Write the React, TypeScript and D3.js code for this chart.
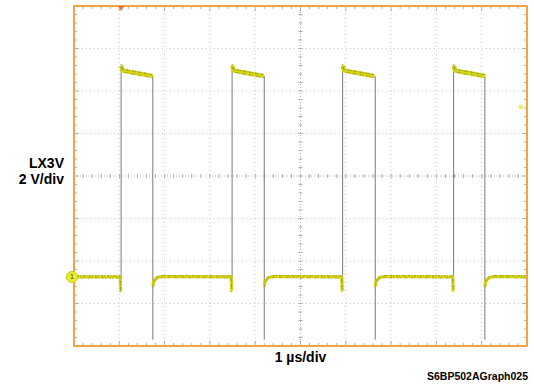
import React from 'react';
import * as d3 from 'd3';

// scope settings: 10 horizontal divisions of 1 µs, 8 vertical divisions of 2 V
const timeDomain = [0, 10];
const voltDomain = [-3.25, 12.75];
const divsX = 10;
const divsY = 8;

// switching edges (µs)
const risingEdges = [1.04, 3.49, 5.93, 8.38];
const fallingEdges = [1.74, 4.2, 6.65, 9.07];

// plateau shape after a rising edge: [µs after edge, volts]
const highShape = [[0, 9.95], [0.03, 9.72], [0.2, 9.64], [0.45, 9.55], [0.7, 9.45]];
// low level shape after a falling edge: [µs after edge, volts]
const lowShape = [[0, -0.45], [0.02, -0.2], [0.08, -0.05], [0.2, 0.02]];
const preDip = -0.65;
const undershoot = -2.95;
const groundLevel = 0;

export default function App() {
  const width = 534;
  const height = 386;
  const margin = { top: 6, right: 7, bottom: 40, left: 74 };
  const x = d3.scaleLinear().domain(timeDomain).range([margin.left, width - margin.right]);
  const y = d3.scaleLinear().domain(voltDomain).range([height - margin.bottom, margin.top]);
  const x0 = x.range()[0], x1 = x.range()[1];
  const y0 = y.range()[1], y1 = y.range()[0];
  const dx = (x1 - x0) / divsX;
  const dy = (y1 - y0) / divsY;
  const cx = x0 + dx * 5;
  const cy = y0 + dy * 4;

  const line = d3.line<number[]>().x(d => x(d[0])).y(d => y(d[1]));

  // yellow segments: low stretches and high plateaus
  const lowSegs: number[][][] = [];
  const highSegs: number[][][] = [];
  let start: number[][] = [[timeDomain[0], groundLevel]];
  risingEdges.forEach((r, i) => {
    lowSegs.push([...start, [r - 0.02, groundLevel], [r - 0.01, preDip], [r, preDip]]);
    highSegs.push(highShape.map(p => [r + p[0], p[1]]));
    const f = fallingEdges[i];
    start = lowShape.map(p => [f + p[0], p[1]]);
  });
  lowSegs.push([...start, [timeDomain[1], groundLevel]]);

  const minorX = d3.range(0, divsX * 5 + 1).map(i => x0 + (i * dx) / 5);
  const minorY = d3.range(0, divsY * 5 + 1).map(i => y0 + (i * dy) / 5);

  return (
    <svg width={width} height={height} style={{ position: 'absolute', left: 0, top: 0 }}>
      <rect width={width} height={height} fill="#fff" />
      {/* dotted grid */}
      <g stroke="#c8c8c8" strokeWidth={1} strokeDasharray="1,3">
        {d3.range(1, divsX).filter(i => i !== 5).map(i => (
          <line key={'gx' + i} x1={x0 + i * dx} x2={x0 + i * dx} y1={y0} y2={y1} />
        ))}
        {d3.range(1, divsY).filter(i => i !== 4).map(i => (
          <line key={'gy' + i} x1={x0} x2={x1} y1={y0 + i * dy} y2={y0 + i * dy} />
        ))}
      </g>
      {/* centre axes */}
      <g stroke="#b0b0b0" strokeWidth={1}>
        <line x1={cx} x2={cx} y1={y0} y2={y1} strokeDasharray="1,2" />
        <line x1={x0} x2={x1} y1={cy} y2={cy} strokeDasharray="1,2" />
        {minorX.map((v, i) => <line key={'cx' + i} x1={v} x2={v} y1={cy - 2} y2={cy + 2} />)}
        {minorY.map((v, i) => <line key={'cy' + i} x1={cx - 2} x2={cx + 2} y1={v} y2={v} />)}
        {minorX.map((v, i) => <line key={'tt' + i} x1={v} x2={v} y1={y0} y2={y0 + (i % 5 === 0 ? 5 : 3)} />)}
        {minorX.map((v, i) => <line key={'tb' + i} x1={v} x2={v} y1={y1} y2={y1 - (i % 5 === 0 ? 5 : 3)} />)}
        {minorY.map((v, i) => <line key={'tl' + i} x1={x0} x2={x0 + (i % 5 === 0 ? 5 : 3)} y1={v} y2={v} />)}
        {minorY.map((v, i) => <line key={'tr' + i} x1={x1} x2={x1 - (i % 5 === 0 ? 5 : 3)} y1={v} y2={v} />)}
      </g>
      {/* fast edges, faint grey */}
      <g stroke="#7a7a7a" strokeWidth={1}>
        {risingEdges.map((r, i) => (
          <line key={'r' + i} x1={x(r)} x2={x(r)} y1={y(preDip)} y2={y(highShape[0][1])} />
        ))}
        {fallingEdges.map((f, i) => (
          <line key={'f' + i} x1={x(f)} x2={x(f)} y1={y(highShape[highShape.length - 1][1])} y2={y(undershoot)} />
        ))}
      </g>
      {/* yellow trace with noise texture */}
      <g fill="none" strokeLinejoin="round">
        {lowSegs.map((s, i) => (
          <g key={'l' + i}>
            <path d={line(s) || ''} stroke="#d6d61e" strokeWidth={3.2} />
            <path d={line(s) || ''} stroke="#8c8c00" strokeWidth={0.8} strokeDasharray="1,2,2,1" transform="translate(0,-1)" />
            <path d={line(s) || ''} stroke="#9a9a10" strokeWidth={0.8} strokeDasharray="2,1,1,3" transform="translate(0,1)" />
          </g>
        ))}
        {highSegs.map((s, i) => (
          <g key={'h' + i}>
            <path d={line(s) || ''} stroke="#d6d61e" strokeWidth={4.5} />
            <path d={line(s) || ''} stroke="#8c8c00" strokeWidth={1} strokeDasharray="1,2,2,1" transform="translate(0,-1.4)" />
            <path d={line(s) || ''} stroke="#9a9a10" strokeWidth={1} strokeDasharray="2,1,1,3" transform="translate(0,1.4)" />
          </g>
        ))}
      </g>
      {/* frame */}
      <rect x={x0} y={y0} width={x1 - x0} height={y1 - y0} fill="none" stroke="#f2a640" strokeWidth={2} />
      {/* trigger position and level markers */}
      <path d={`M${x(risingEdges[0]) - 3},${y0} L${x(risingEdges[0]) + 3},${y0} L${x(risingEdges[0])},${y0 + 5}Z`} fill="#f06a30" />
      <circle cx={x1 - 6} cy={y(8)} r={2.5} fill="#eeee80" />
      <circle cx={x0 - 2} cy={y(groundLevel)} r={5.5} fill="#ecec30" stroke="#c8c800" />
      <text x={x0 - 2} y={y(groundLevel) + 2.5} fontSize={7} fontFamily="Liberation Sans" textAnchor="middle" fill="#333">1</text>
      {/* labels */}
      <g fontFamily="Liberation Sans, Arial, sans-serif" fontWeight="bold" fill="#000">
        <text x={64} y={168} fontSize={14} textAnchor="end">LX3V</text>
        <text x={64} y={184} fontSize={14} textAnchor="end">2 V/div</text>
        <text x={cx} y={362} fontSize={14} textAnchor="middle">1 µs/div</text>
        <text x={528} y={380} fontSize={10.5} textAnchor="end">S6BP502AGraph025</text>
      </g>
    </svg>
  );
}
